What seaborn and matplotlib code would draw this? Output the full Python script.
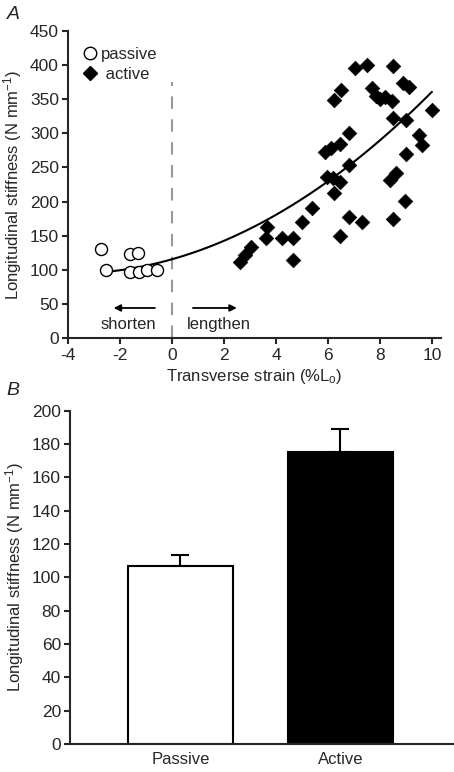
import numpy as np
import pandas as pd
import seaborn as sns
import matplotlib.pyplot as plt
from matplotlib.lines import Line2D

# panel A data
passive_x = [-2.72, -2.55, -1.63, -1.31, -1.63, -1.27, -0.95, -0.56]
passive_y = [130, 100, 123, 124, 96, 96, 100, 100]

active_x = [2.6, 2.8, 3.05, 3.6, 3.65, 4.25, 4.65, 4.65, 5.0, 5.4,
            5.95, 6.2, 6.45, 6.25, 6.8, 7.3, 6.45, 5.9, 6.1, 6.45,
            6.8, 6.8, 6.25, 6.5, 7.05, 7.5, 7.7, 7.85, 8.2, 8.45,
            8.9, 9.1, 8.5, 10.0, 8.5, 9.0, 9.5, 9.6, 9.0, 8.4,
            8.6, 8.95, 8.5, 8.0]
active_y = [112, 122, 134, 146, 163, 146, 146, 114, 170, 190,
            236, 234, 229, 212, 178, 170, 150, 273, 278, 285,
            300, 254, 349, 364, 395, 400, 366, 355, 353, 347,
            373, 368, 398, 334, 322, 320, 298, 283, 270, 232,
            242, 201, 175, 350]

# panel B data
groups = ["Passive", "Active"]
means = [107, 175]
sems = [6.4, 14.2]

sns.set_theme(style="ticks")
plt.rcParams['font.family'] = ['Liberation Sans', 'DejaVu Sans']
plt.rcParams['mathtext.fontset'] = 'custom'
plt.rcParams['mathtext.rm'] = 'Liberation Sans'
plt.rcParams['mathtext.it'] = 'Liberation Sans:italic'
plt.rcParams['axes.unicode_minus'] = False
plt.rcParams['axes.linewidth'] = 1.5
plt.rcParams['xtick.major.width'] = 1.5
plt.rcParams['ytick.major.width'] = 1.5
plt.rcParams['xtick.major.size'] = 4
plt.rcParams['ytick.major.size'] = 4
plt.rcParams['xtick.labelsize'] = 12.5
plt.rcParams['ytick.labelsize'] = 12.5
plt.rcParams['xtick.major.pad'] = 3
plt.rcParams['ytick.major.pad'] = 2.5

fig = plt.figure(figsize=(4.54, 7.72), dpi=100)
axA = fig.add_axes([0.1498, 0.5622, 0.8216, 0.3977])
axB = fig.add_axes([0.154, 0.0363, 0.846, 0.4318])

# ---- panel A
dfp = pd.DataFrame({"x": passive_x, "y": passive_y})
dfa = pd.DataFrame({"x": active_x, "y": active_y})

all_x = np.array(passive_x + active_x)
all_y = np.array(passive_y + active_y)
coef = np.polyfit(all_x, all_y, 2)
xf = np.linspace(-2.55, all_x.max(), 100)
fit = pd.DataFrame({"x": xf, "y": np.polyval(coef, xf)})

axA.axvline(0, ymin=0, ymax=375 / 450, color="#999999", lw=1.5, ls=(0, (6, 5)))
sns.lineplot(data=fit, x="x", y="y", ax=axA, color="black", lw=1.5)
sns.scatterplot(data=dfa, x="x", y="y", ax=axA, marker="D", s=55,
                color="black", edgecolor="black", linewidth=0.5, zorder=3)
sns.scatterplot(data=dfp, x="x", y="y", ax=axA, marker="o", s=75,
                facecolor="white", edgecolor="black", linewidth=1, zorder=3)

axA.set_xlim(-4, 10.35)
axA.set_ylim(0, 450)
axA.set_xticks(range(-4, 11, 2))
axA.set_yticks(range(0, 451, 50))
axA.set_xlabel("Transverse strain (%L$_\\mathregular{o}$)", fontsize=12, labelpad=3)
axA.set_ylabel("Longitudinal stiffness (N mm$^{\\mathregular{-1}}$)", fontsize=12, labelpad=4)
sns.despine(ax=axA)

axA.annotate("", xy=(-2.35, 44), xytext=(-0.55, 44),
             arrowprops=dict(arrowstyle="-|>", color="black", lw=1.3, mutation_scale=10))
axA.annotate("", xy=(2.6, 44), xytext=(0.7, 44),
             arrowprops=dict(arrowstyle="-|>", color="black", lw=1.3, mutation_scale=10))
axA.text(-1.67, 20, "shorten", ha="center", va="center", fontsize=12)
axA.text(1.8, 20, "lengthen", ha="center", va="center", fontsize=12)

handles = [Line2D([], [], marker="o", ls="", markersize=9, markerfacecolor="white",
                  markeredgecolor="black"),
           Line2D([], [], marker="D", ls="", markersize=7.5, color="black")]
axA.legend(handles, ["passive", " active"], loc="upper left", bbox_to_anchor=(0.0, 0.985),
           frameon=False, fontsize=12, handletextpad=0.1, labelspacing=0.3,
           handlelength=1.2, borderpad=0.2)

fig.text(0.015, 0.981, "A", fontsize=14, style="italic", va="center")

# ---- panel B
dfb = pd.DataFrame({"group": groups, "mean": means})
sns.barplot(data=dfb, x="group", y="mean", hue="group", palette=["white", "black"],
            edgecolor="black", linewidth=1.5, width=0.66, legend=False, ax=axB)
axB.errorbar([0, 1], means, yerr=[[0, 0], sems], fmt="none", ecolor="black",
             elinewidth=1.5, capsize=6.5, capthick=1.5, zorder=1)
axB.set_xlim(-0.69, 1.71)
axB.set_ylim(0, 200)
axB.set_yticks(range(0, 201, 20))
axB.tick_params(axis="x", length=0, pad=6, labelsize=12)
axB.set_xlabel("")
axB.set_ylabel("Longitudinal stiffness (N mm$^{\\mathregular{-1}}$)", fontsize=12, labelpad=4)
sns.despine(ax=axB)

fig.text(0.015, 0.494, "B", fontsize=14, style="italic", va="center")

fig.savefig("out.png", dpi=100)
